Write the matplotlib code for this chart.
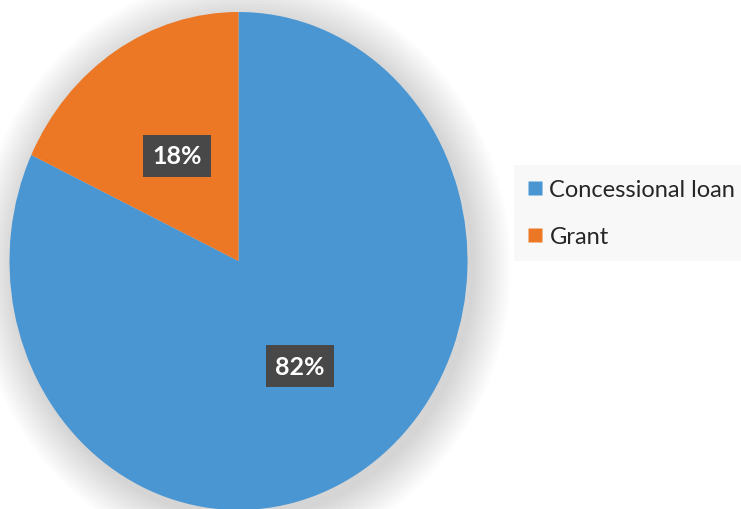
import matplotlib
matplotlib.use("Agg")
import matplotlib.pyplot as plt
from matplotlib.patches import Ellipse
from matplotlib.lines import Line2D

# data
labels = ["Concessional loan", "Grant"]
shares = [82, 18]
colors = ["#4A96D3", "#EC7725"]

W, H = 741, 510
fig = plt.figure(figsize=(W / 100, H / 100), dpi=100)
ax = fig.add_axes([0, 0, 1, 1])

# pie centre / radii in pixels (ellipse shaped pie)
cx, cy, rx, ry = 238.5, 262, 229, 249
ax.set_xlim(-cx / rx, (W - cx) / rx)
ax.set_ylim(-(H - cy) / ry, cy / ry)

# soft shadow around the pie
for k in range(14):
    grow = 0.012 * (k + 1)
    ax.add_patch(Ellipse((0.02, -0.025), 2 + 2 * grow, 2 + 2 * grow,
                         facecolor="#000000", alpha=0.013, edgecolor="none", zorder=0))

wedges, texts, autotexts = ax.pie(
    shares, colors=colors, startangle=90, counterclock=False,
    autopct="%d%%", pctdistance=0.5, radius=1,
    wedgeprops=dict(linewidth=0, zorder=2),
    textprops=dict(color="white", fontsize=18, fontweight="bold", family="Lato"))
ax.set_aspect("auto")
ax.set_xlim(-cx / rx, (W - cx) / rx)
ax.set_ylim(-(H - cy) / ry, cy / ry)
ax.axis("off")

for t in autotexts:
    t.set_zorder(5)
    t.set_bbox(dict(boxstyle="square,pad=0.38", facecolor="#484848", edgecolor="none"))

handles = [Line2D([], [], marker="s", linestyle="none", markersize=9.5,
                  markerfacecolor=c, markeredgecolor="none") for c in colors]
leg = ax.legend(handles, labels, loc="center left", bbox_to_anchor=(514 / W, 1 - 214 / H),
                bbox_transform=fig.transFigure, frameon=True, fancybox=False,
                prop=dict(family="Lato", size=17), handlelength=0.6, handletextpad=0.3,
                labelspacing=1.12, borderpad=0.6, borderaxespad=0)
leg.get_frame().set_facecolor("#F7F7F7")
leg.get_frame().set_edgecolor("none")
for t in leg.get_texts():
    t.set_color("#262626")

fig.savefig("out.png", dpi=100)
